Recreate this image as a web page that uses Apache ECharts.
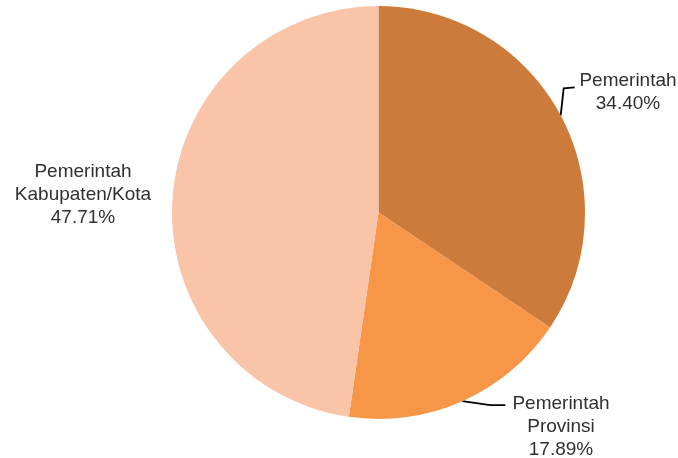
<!DOCTYPE html>
<html>
<head>
<meta charset="utf-8">
<style>
  html, body { margin: 0; padding: 0; background: #fff; }
  #chart { width: 678px; height: 458px; }
</style>
<script src="https://cdn.jsdelivr.net/npm/echarts@6/dist/echarts.min.js"></script>
</head>
<body>
<div id="chart"></div>
<script>
// Share of spending by level of government (percent)
const categories = ['Pemerintah', 'Pemerintah Provinsi', 'Pemerintah Kabupaten/Kota'];
const labelLines = ['Pemerintah', 'Pemerintah\nProvinsi', 'Pemerintah\nKabupaten/Kota'];
const shares = [34.40, 17.89, 47.71];

const sliceColors = ['#CD7B3A', '#F79646', '#F9C4A8'];

// Label anchor points (centre of each text block) and leader-line offsets
const labelAnchors = [
  { x: 628, y: 92, line: [[3, -27], [14, -28]] },
  { x: 561, y: 427, line: [[28, 4], [43, 4]] },
  { x: 83, y: 195, line: null }
];

const chart = echarts.init(document.getElementById('chart'), null, { renderer: 'canvas' });

chart.setOption({
  backgroundColor: '#ffffff',
  animation: false,
  series: [{
    type: 'pie',
    center: [378.5, 212.5],
    radius: 206.5,
    startAngle: 90,
    clockwise: true,
    avoidLabelOverlap: false,
    data: categories.map((name, i) => ({
      name: name,
      value: shares[i],
      itemStyle: { color: sliceColors[i] },
      labelLine: { show: labelAnchors[i].line !== null }
    })),
    label: {
      show: true,
      position: 'outside',
      formatter: p => labelLines[p.dataIndex] + '\n' + shares[p.dataIndex].toFixed(2) + '%',
      fontFamily: 'Liberation Sans, Arial, sans-serif',
      fontSize: 19,
      lineHeight: 23,
      color: '#303030',
      align: 'center'
    },
    labelLine: {
      show: true,
      length: 10,
      length2: 10,
      smooth: false,
      lineStyle: { color: '#000000', width: 1.8 }
    },
    labelLayout: function (params) {
      const a = labelAnchors[params.dataIndex];
      const out = { x: a.x, y: a.y, align: 'center', verticalAlign: 'middle' };
      if (a.line && params.labelLinePoints) {
        const s = params.labelLinePoints[0];
        out.labelLinePoints = [
          [s[0], s[1]],
          [s[0] + a.line[0][0], s[1] + a.line[0][1]],
          [s[0] + a.line[1][0], s[1] + a.line[1][1]]
        ];
      }
      return out;
    },
    emphasis: { disabled: true }
  }]
});
</script>
</body>
</html>
